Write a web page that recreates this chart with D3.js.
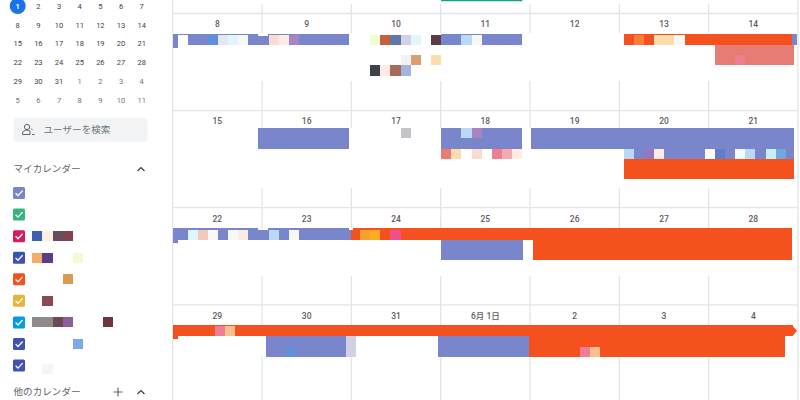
<!DOCTYPE html>
<html lang="ja">
<head>
<meta charset="UTF-8">
<title>カレンダー</title>
<script src="https://d3js.org/d3.v7.min.js"></script>
<style>
  html, body { margin: 0; background: #fff; overflow: hidden; }
  text { font-family: Roboto, "Noto Sans CJK JP", sans-serif; }
</style>
</head>
<body>
<script>
// mini month
const miniDays = [1,2,3,4,5,6,7,8,9,10,11,12,13,14,15,16,17,18,19,20,21,22,23,24,25,26,27,28,29,30,31,
                  1,2,3,4,5,6,7,8,9,10,11];
const lastDayOfMonth = 31;

// week headers
const weekLabels = [
  ["8","9","10","11","12","13","14"],
  ["15","16","17","18","19","20","21"],
  ["22","23","24","25","26","27","28"],
  ["29","30","31","6月 1日","2","3","4"]
];

// calendars in the side list
const calendarColors = ["lavender","sage","cherry","blueberry","tangerine","banana","peacock","blueberry","blueberry"];

// [list row, slot, shade]
const sideTiles = [
  [2,0,"royal"],[2,1,"cream"],[2,2,"umber"],[2,3,"wine"],
  [3,0,"apricot"],[3,1,"plum"],[3,4,"lime"],
  [4,3,"ochre"],
  [5,1,"wine2"],
  [6,0,"gray"],[6,1,"gray"],[6,2,"umber2"],[6,3,"mauve"],[6,7,"wine3"],
  [7,4,"cornflower"],
  [8,1,"mist"]
];

// [week, slot from, slot to, lane from, lane count, calendar]
const bars = [
  [0,-0.45,16.9,0,1,"lavender"],
  [0,26,34,0,1,"lavender"],
  [0,59,61.1,0,1,"lavender"],
  [0,44,60.6,0,1,"tangerine"],
  [0,53,60.8,1,2,"flamingo"],
  [1,7.9,16.9,0,2,"lavender"],
  [1,26,34,0,2,"lavender"],
  [1,34.9,60.8,0,2,"lavender"],
  [1,44,60.8,2,1,"lavender"],
  [1,44,60.8,3,2,"tangerine"],
  [2,-0.45,17.1,0,1,"lavender"],
  [2,17.1,60.6,0,1,"tangerine"],
  [2,26,34.1,1,2,"lavender"],
  [2,35.1,60.6,1,2,"tangerine"],
  [3,-0.45,60.7,0,1,"tangerine"],
  [3,8.7,16.65,1,2,"lavender"],
  [3,25.7,34.7,1,2,"lavender"],
  [3,34.7,59.9,1,2,"tangerine"]
];

// [week, slot, lane, shade, lane count]
const tiles = [
  [0,0,0,"white"],[0,3,0,"azure"],[0,4,0,"fog"],[0,5,0,"ice"],[0,6,0,"snow"],
  [0,9,0,"blush"],[0,10,0,"shell"],[0,11,0,"orchid"],
  [0,19,0,"lime"],[0,20,0,"rust"],[0,21,0,"slate"],[0,22,0,"haze"],[0,23,0,"ice"],[0,25,0,"umber3"],
  [0,28,0,"pale"],[0,29,0,"snow"],
  [0,45,0,"coral"],[0,47,0,"sand"],[0,48,0,"sand"],[0,49,0,"snow"],
  [0,55,2,"rose"],
  [0,22,2,"smoke"],[0,23,2,"tan"],[0,25,2,"sand"],
  [0,19,3,"ink"],[0,20,3,"shell"],[0,21,3,"clay"],[0,22,3,"periwinkle"],
  [1,22,0,"ash"],[1,28,0,"pale"],[1,29,0,"orchid"],
  [1,26,2,"salmon"],[1,27,2,"sand"],[1,29,2,"blush"],[1,31,2,"rose"],[1,32,2,"rose2"],[1,33,2,"shell"],
  [1,44,2,"pale"],[1,46,2,"orchid2"],[1,47,2,"shell"],[1,52,2,"white"],[1,53,2,"azure2"],
  [1,55,2,"snow"],[1,56,2,"pale"],[1,58,2,"ice2"],[1,59,2,"azure3"],
  [2,1,0,"ice"],[2,2,0,"blush2"],[2,3,0,"snow"],[2,5,0,"snow"],[2,6,0,"shell"],[2,9,0,"pale"],[2,11,0,"snow"],
  [2,18,0,"amber"],[2,19,0,"amber2"],[2,21,0,"magenta"],
  [3,3.7,0,"rose"],[3,4.7,0,"peach"],
  [3,10.7,2,"azure"],[3,16.65,1,"haze",2],
  [3,39.7,2,"rose"],[3,40.7,2,"peach"]
];

// [week, slot from, slot to, lane edge, calendar] short tails under the left ends of wrapped events
const tails = [[0,-0.45,0,1,"lavender"],[2,-0.45,0,1,"lavender"],[3,-0.45,0,1,"tangerine"]];
// [week, slot from, slot to, lane edge] small white cuts in the event tops
const cuts = [[0,7.9,8.9,0],[2,7.9,8.9,0],[2,16.9,17.3,0]];

const barColor = d3.scaleOrdinal()
  .domain(["lavender","sage","cherry","blueberry","tangerine","banana","peacock","flamingo"])
  .range(["#7986cb","#33b679","#d81b60","#3f51b5","#f4511e","#e8b53c","#039be5","#e67c73"]);

const shadeNames = ["royal","cream","umber","umber2","umber3","wine","wine2","wine3","apricot","plum","lime","ochre","gray","mauve",
  "cornflower","mist","white","azure","azure2","azure3","fog","ice","ice2","snow","blush","blush2","shell","orchid","orchid2","rust","slate",
  "haze","pale","coral","sand","rose","rose2","smoke","tan","ink","clay","periwinkle","ash","amber","amber2","magenta","peach","salmon"];
const shadeHex = ["#3f5fb4","#fbf0e4","#644e5a","#6a4a54","#5a3c48","#84424e","#8a4a54","#70343e","#f4ab66","#5a3c88","#f0fdd4","#dc9a50","#8e8a8c","#8c5c9c",
  "#7ea8e8","#f4f6f6","#ffffff","#5f8fdc","#5f7fc8","#6fa8e0","#e4e8f2","#dff6fc","#c8eefa","#f6f9f7","#fbdcd0","#f0ccb8","#fdece4","#a884c4","#9078c4","#c8603f","#5f78a8",
  "#ced2e4","#b8daf4","#fc7a3c","#fddcae","#ef7d93","#f4aab0","#f1f2f2","#d8a070","#3a424c","#a86a58","#a4b4de","#c6c4c8","#f8a030","#fdab22","#f0508a","#f8c090","#e87c72"];
const shade = d3.scaleOrdinal().domain(shadeNames).range(shadeHex);

const svg = d3.select("body").append("svg").attr("width", 800).attr("height", 400).style("display", "block");

// scales
const dayX = d3.scaleLinear().domain([0, 7]).range([172.7, 798]);
const weekLineY = d3.scaleLinear().domain([0, 1]).range([13.5, 110.6]);
const slotX = d3.scaleLinear().domain([0, 1]).range([177.5, 187.64]);
const weekTop = d3.scaleOrdinal().domain([0, 1, 2, 3]).range([35, 128.3, 230, 326.3]);
const weekCap = [1, 0, 1.7, 1];
const weekHeaderY = [24, 121, 218.7, 315.7];
const laneH = 10.15;
const laneY = (w, k) => weekTop(w) + k * laneH;

// grid
const gridColor = "#e3e5e9";
const gridGaps = [[33, 81], [128, 188], [228, 276], [325, 356.5]];
const rowEdges = [0, 1, 2, 3].map(weekLineY);
const grid = svg.append("g").attr("stroke", gridColor).attr("stroke-width", 1.3);
grid.selectAll("line.h").data(rowEdges).join("line").attr("class", "h")
  .attr("x1", dayX(0)).attr("x2", dayX(7)).attr("y1", d => d).attr("y2", d => d);
[0, 7].forEach(d => {
  grid.append("line").attr("x1", dayX(d)).attr("x2", dayX(d)).attr("y1", 0).attr("y2", 400);
});
d3.range(1, 7).forEach(d => {
  let top = 4;
  gridGaps.forEach(g => {
    grid.append("line").attr("x1", dayX(d)).attr("x2", dayX(d)).attr("y1", top).attr("y2", g[0]);
    top = g[1];
  });
  grid.append("line").attr("x1", dayX(d)).attr("x2", dayX(d)).attr("y1", top).attr("y2", 400);
});

// week day numbers
weekLabels.forEach((labels, w) => {
  svg.append("g").selectAll("text").data(labels).join("text")
    .attr("x", (d, i) => dayX(i + 0.5))
    .attr("y", weekHeaderY[w])
    .attr("dy", "0.35em")
    .attr("text-anchor", "middle")
    .attr("font-size", 8.5)
    .attr("font-weight", 500)
    .attr("fill", "#5f5a60")
    .text(d => d);
});

// teal strip at the very top
svg.append("rect").attr("x", slotX(26)).attr("width", slotX(34) - slotX(26)).attr("y", 0).attr("height", 1.2).attr("fill", "#0f9d8c");

// event bars
const marks = svg.append("g").attr("shape-rendering", "crispEdges");
marks.selectAll("rect.bar").data(bars).join("rect").attr("class", "bar")
  .attr("x", d => slotX(d[1]))
  .attr("width", d => slotX(d[2]) - slotX(d[1]))
  .attr("y", d => laneY(d[0], d[3]) - (d[3] === 0 ? weekCap[d[0]] : 0))
  .attr("height", d => d[4] * laneH + (d[3] === 0 ? weekCap[d[0]] : 0))
  .attr("fill", d => barColor(d[5]));

marks.selectAll("rect.tail").data(tails).join("rect").attr("class", "tail")
  .attr("x", d => slotX(d[1]))
  .attr("width", d => slotX(d[2]) - slotX(d[1]))
  .attr("y", d => laneY(d[0], d[3]))
  .attr("height", 3)
  .attr("fill", d => barColor(d[4]));

marks.selectAll("rect.cut").data(cuts).join("rect").attr("class", "cut")
  .attr("x", d => slotX(d[1]))
  .attr("width", d => slotX(d[2]) - slotX(d[1]))
  .attr("y", d => laneY(d[0], d[3]) - weekCap[d[0]])
  .attr("height", 2)
  .attr("fill", "#fff");

// arrow tip, last week
svg.append("path")
  .attr("d", d3.line()([[slotX(60.6), laneY(3, 0) - 1], [slotX(61.1), laneY(3, 0) + 4.5], [slotX(60.6), laneY(3, 1)]]))
  .attr("fill", barColor("tangerine"));

// mosaic tiles on top of the bars
marks.selectAll("rect.tile").data(tiles).join("rect").attr("class", "tile")
  .attr("x", d => slotX(d[1]))
  .attr("width", slotX(1) - slotX(0))
  .attr("y", d => laneY(d[0], d[2]))
  .attr("height", d => (d[4] || 1) * laneH)
  .attr("fill", d => shade(d[3]));

// mini month
const miniX = d3.scaleLinear().domain([0, 6]).range([17.7, 141.7]);
const miniY = d3.scaleLinear().domain([0, 5]).range([6, 100.4]);
svg.append("circle").attr("cx", miniX(0)).attr("cy", miniY(0)).attr("r", 8).attr("fill", "#1a73e8");
svg.append("g").selectAll("text").data(miniDays).join("text")
  .attr("x", (d, i) => miniX(i % 7))
  .attr("y", (d, i) => miniY(Math.floor(i / 7)))
  .attr("dy", "0.35em")
  .attr("text-anchor", "middle")
  .attr("font-size", 7.5)
  .attr("font-weight", (d, i) => i === 0 ? 700 : 400)
  .attr("fill", (d, i) => i === 0 ? "#fff" : (i < lastDayOfMonth ? "#3c4043" : "#70757a"))
  .text(d => d);

// search box
svg.append("rect").attr("x", 13.5).attr("y", 118).attr("width", 134).attr("height", 24).attr("rx", 4).attr("fill", "#f1f3f4");
const icon = svg.append("g").attr("fill", "none").attr("stroke", "#5f6368").attr("stroke-width", 1);
icon.append("circle").attr("cx", 27).attr("cy", 127).attr("r", 2.6);
icon.append("path").attr("d", "M22.5 134.5v-1.5c0-1.8 2.6-2.8 4.5-2.8 1 0 2.2.3 3 .8v3.5zM31 128.5l1.5 1.5M32 134.5h2.5");
svg.append("text").attr("x", 43.5).attr("y", 130).attr("dy", "0.35em").attr("font-size", 9.6).attr("fill", "#70757a").text("ユーザーを検索");

// section headers
const sections = [["マイカレンダー", 169], ["他のカレンダー", 392]];
svg.append("g").selectAll("text").data(sections).join("text")
  .attr("x", 13.5).attr("y", d => d[1]).attr("dy", "0.35em")
  .attr("font-size", 9.6).attr("fill", "#5f6368").text(d => d[0]);
svg.append("g").selectAll("path").data(sections).join("path")
  .attr("d", d => `M137.5 ${d[1] + 2}l3.5-3.5 3.5 3.5`)
  .attr("fill", "none").attr("stroke", "#3c4043").attr("stroke-width", 1.2);
svg.append("path").attr("d", "M113.5 392h9M118 387.5v9").attr("stroke", "#5f6368").attr("stroke-width", 1.1);

// calendar list
const listY = d3.scaleLinear().domain([0, 8]).range([193, 365.5]);
const sideX = d3.scaleLinear().domain([0, 1]).range([32.3, 42.4]);
const boxes = svg.append("g").selectAll("g").data(calendarColors).join("g")
  .attr("transform", (d, i) => `translate(13,${listY(i) - 6})`);
boxes.append("rect").attr("width", 12).attr("height", 12).attr("rx", 1.5).attr("fill", d => barColor(d));
boxes.append("path").attr("d", "M2.6 6.2l2.4 2.4 4.6-5").attr("fill", "none").attr("stroke", "#fff").attr("stroke-width", 1.3);

svg.append("g").attr("shape-rendering", "crispEdges").selectAll("rect").data(sideTiles).join("rect")
  .attr("x", d => sideX(d[1]))
  .attr("width", sideX(1) - sideX(0))
  .attr("y", d => listY(d[0]) - 5 + (d[0] === 8 ? 3 : 0))
  .attr("height", 10)
  .attr("fill", d => shade(d[2]));
</script>
</body>
</html>
